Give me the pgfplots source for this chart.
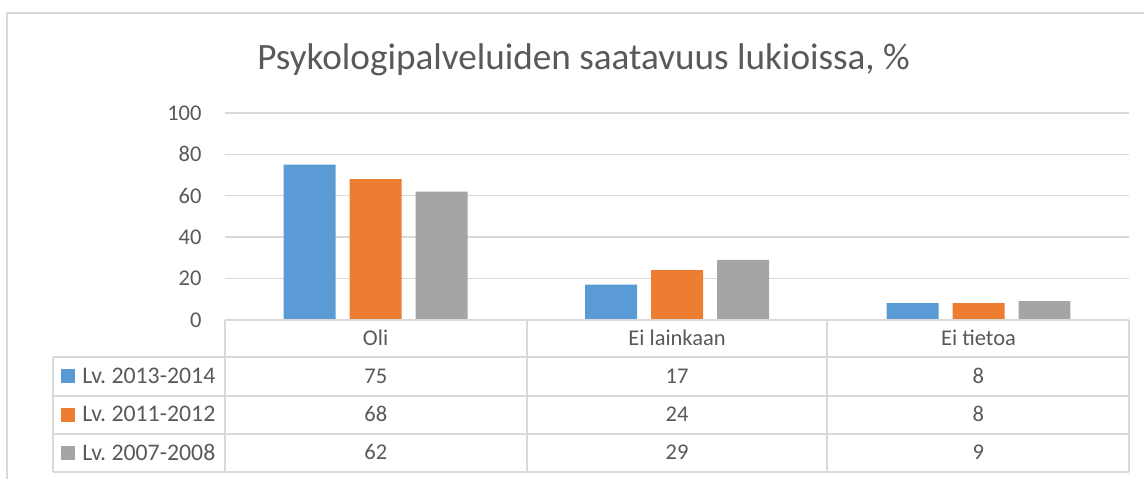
\documentclass[border=0pt]{standalone}
\usepackage{fontspec}
\setmainfont{Carlito}
\usepackage{pgfplots}
\pgfplotsset{compat=1.18}
\definecolor{cblue}{HTML}{5B9BD5}
\definecolor{corange}{HTML}{ED7D31}
\definecolor{cgray}{HTML}{A5A5A5}
\definecolor{ctext}{HTML}{595959}
\definecolor{cgrid}{HTML}{D9D9D9}
\frenchspacing
\begin{document}
\begin{tikzpicture}
\begin{axis}[
 at={(0pt,0pt)}, anchor=south west,
 scale only axis, width=452.5pt, height=103.5pt,
 xmin=-0.5, xmax=2.5, ymin=0, ymax=100,
 ybar=7pt, bar width=26pt,
 xtick={0,1,2}, xticklabels={Oli, Ei lainkaan, Ei tietoa},
 ytick={0,20,...,100},
 ymajorgrids, grid style={cgrid, line width=0.75pt},
 axis line style={draw=none},
 major tick length=0pt,
 tick label style={font=\fontsize{11.25}{13}\selectfont, text=ctext},
 yticklabel style={anchor=east, inner sep=0pt, xshift=-11.5pt},
 xticklabel style={anchor=base, inner sep=0pt, yshift=-12.75pt},
 /pgf/number format/assume math mode=true,
 clip=false,
 legend style={at={(-0.18785,-0.45894)}, anchor=west, draw=none, fill=none,
   font=\fontsize{11.9}{13}\selectfont\frenchspacing, text=ctext, row sep=0pt,
   nodes={inner sep=0pt, anchor=base west, text height=13.125pt, text depth=6.125pt},
   /tikz/every odd column/.style={column sep=3.5pt}},
 legend cell align=left,
 legend image code/.code={\fill[#1] (0pt,0pt) rectangle (7pt,7pt);},
]
\addplot[fill=cblue, draw=none] coordinates {(0,75) (1,17) (2,8)};
\addplot[fill=corange, draw=none] coordinates {(0,68) (1,24) (2,8)};
\addplot[fill=cgray, draw=none] coordinates {(0,62) (1,29) (2,9)};
\legend{Lv.\ 2013-2014, Lv.\ 2011-2012, Lv.\ 2007-2008}
\end{axis}
\begin{scope}[x=0.5pt, y=-0.5pt, shift={(-112.5pt,160pt)}]
\path (0,0) rectangle (1145,479);
\draw[cgrid, line width=0.75pt] (7,479) -- (7,13) -- (1145,13);
\begin{scope}[cgrid, line width=1pt]
\draw (225,320) -- (1130,320);
\foreach \yy in {357,396,434,472} \draw (53,\yy) -- (1130,\yy);
\draw (53,357) -- (53,472);
\foreach \xx in {225,527,828,1130} \draw (\xx,320) -- (\xx,472);
\end{scope}
\node[anchor=base, text=ctext, font=\fontsize{18.6}{22}\selectfont, inner sep=0pt] at (584,70) {Psykologipalveluiden saatavuus lukioissa, \%};
\begin{scope}[every node/.style={anchor=base, text=ctext, inner sep=0pt, font=\fontsize{11.25}{13}\selectfont}]
\node at (376,383.5) {75}; \node at (677.5,383.5) {17}; \node at (979,383.5) {8};
\node at (376,422) {68}; \node at (677.5,422) {24}; \node at (979,422) {8};
\node at (376,460) {62}; \node at (677.5,460) {29}; \node at (979,460) {9};
\end{scope}
\end{scope}
\end{tikzpicture}
\end{document}
